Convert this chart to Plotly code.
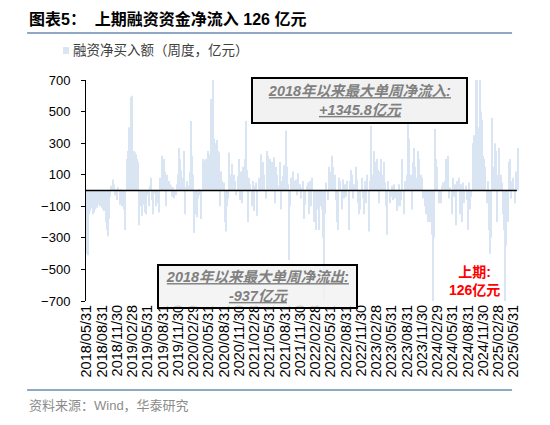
import pandas as pd
import plotly.graph_objects as go

# weekly margin-financing net buy (亿元), week ending Fridays from 2018-06-01
net_buy_2018_19 = [-400, -410, -150, -130, -110, -150, -140, -120, -100, -110, -90, -100,
                   -80, -110, -120, -130, -200, -250, -290, -180, -40, 30, 70, 40,
                   -30, 10, -60, 20, -90, 10, -100, -60, -120, -250, 200, 250,
                   400, 250, 590, 600, 250, 240, 230, 200, 180, -220, -100, -160,
                   -90, -50, -140, -150, -30, -100, 30, 80, -60, -150, -20, -100,
                   -80, -40]
net_buy_2019_20 = [-140, 80, 220, 190, 200, 120, -100, 100, 60, 40, 30, -40,
                   20, -50, -30, 40, 100, 270, 200, 130, 80, 250, -150, 20,
                   60, 30, 120, 440, 220, 100, -270, -150, -170, -50, 10, -30,
                   -180, 200, 190, 170, 200, 180, 250, 230, 580, 560, 700, 330,
                   300, 320, 250, 240, -100, 120, 60, 50, -200, -260, -100, -50,
                   240, 100, 170, 90]
net_buy_2020_22 = [100, 60, -30, 90, 200, -60, 120, -80, 150, 200, 440, 130,
                   -200, 80, 40, -100, 60, -130, 30, 50, -160, 80, 60, 230,
                   140, 180, 100, -50, 250, 220, 160, 200, 180, 90, 210, -80,
                   150, 100, 30, 180, -120, 60, 90, 160, 380, 150, 40, -440,
                   -100, 80, 120, 60, 20, 70, -30, 110, 40, -50, 20, 60,
                   -180, -90, 30, 50]
net_buy_2022_23 = [-150, 60, -100, 80, -200, -150, -250, -120, -60, -250, -100, -120,
                   -300, -720, -150, 50, -60, 150, 120, 80, 220, 150, 100, -60,
                   -200, -250, 80, 60, -120, 70, -50, 40, -40, 60, -250, 60,
                   130, 100, -50, 40, 150, 70, -80, -150, -120, 80, -50, -150,
                   60, -80, 100, -260, 60, 410, 100, 60, 250, 180, 200, 130,
                   -80, 120, 200, 100]
net_buy_2023_24 = [180, 50, -100, -280, 60, -80, -40, 30, -60, 40, -50, -130,
                   -100, 40, -100, -60, 200, -150, 60, 20, 100, 420, 330, 100,
                   -120, 180, 270, 150, 80, 250, 200, 40, 100, 80, -50, -100,
                   -150, -60, -200, -180, -200, -280, -937, -300, 390, 200, 150, -80,
                   -60, -80, 30, 50, 60, 200, 120, 220, -50, 20, -150, 80,
                   -40, 40, -220, 60]
net_buy_2024_25 = [80, -150, 40, -200, 50, -80, 30, -60, -250, 50, -120, -40,
                   300, 350, 250, 880, 1345.8, 400, 760, 500, 450, 220, 200, 150,
                   -80, 60, -250, -400, -300, 460, 150, 300, 250, -200, 100, 270,
                   100, 50, -150, -250, -890, -350, -200, 180, 200, -50, 60, 80,
                   -80, 120, 90, 270, 126]

net_buy = (net_buy_2018_19 + net_buy_2019_20 + net_buy_2020_22
           + net_buy_2022_23 + net_buy_2023_24 + net_buy_2024_25)
week_end = pd.date_range("2018-06-01", periods=len(net_buy), freq="7D")

tick_labels = ["2018/05/31", "2018/08/31", "2018/11/30", "2019/02/28", "2019/05/31",
               "2019/08/31", "2019/11/30", "2020/02/29", "2020/05/31", "2020/08/31",
               "2020/11/30", "2021/02/28", "2021/05/31", "2021/08/31", "2021/11/30",
               "2022/02/28", "2022/05/31", "2022/08/31", "2022/11/30", "2023/02/28",
               "2023/05/31", "2023/08/31", "2023/11/30", "2024/02/29", "2024/05/31",
               "2024/08/31", "2024/11/30", "2025/02/28", "2025/05/31"]
y_ticks = [700, 500, 300, 100, -100, -300, -500, -700]

font = "Liberation Sans, Noto Sans CJK SC"
bar_color = "#DAE5F3"
rule_color = "#8FA8C6"

fig = go.Figure()
fig.add_trace(go.Bar(x=week_end, y=net_buy, marker=dict(color=bar_color, line_width=0),
                     name="融资净买入额（周度，亿元）", showlegend=False))

fig.update_layout(
    width=550, height=425,
    margin=dict(l=86, r=31, t=80, b=124),
    paper_bgcolor="white", plot_bgcolor="white",
    bargap=0.1,
    font=dict(family=font, size=13, color="black"),
    xaxis=dict(type="date", range=["2018-05-27", "2025-07-02"],
               tickvals=pd.to_datetime(tick_labels, format="%Y/%m/%d"),
               ticktext=tick_labels, tickangle=-90, showgrid=False,
               showline=False, ticks="", tickfont=dict(size=14.5)),
    yaxis=dict(range=[-700, 700], tickvals=y_ticks, showgrid=False,
               showline=True, linecolor="black", linewidth=1,
               ticks="outside", ticklen=4, tickcolor="black",
               ticklabelstandoff=8, zeroline=False,
               tickfont=dict(size=13)),
)

# zero line drawn over the bars
fig.add_shape(type="line", xref="paper", yref="y", x0=0, x1=0.995, y0=0, y1=0,
              line=dict(color="black", width=1.5), layer="above")

# header, legend swatch and rules
fig.add_annotation(text="<b>图表5：  上期融资资金净流入 126 亿元</b>", x=-0.136, y=1.276,
                   xref="paper", yref="paper", xanchor="left", yanchor="middle",
                   showarrow=False, font=dict(size=16, color="black"))
fig.add_shape(type="line", xref="paper", yref="paper", x0=-0.136, x1=0.984, y0=1.213, y1=1.213,
              line=dict(color=rule_color, width=2))
fig.add_shape(type="rect", xref="paper", yref="paper", x0=-0.053, x1=-0.039, y0=1.118, y1=1.149,
              fillcolor=bar_color, line_width=0)
fig.add_annotation(text="融资净买入额（周度，亿元）", x=-0.035, y=1.133,
                   xref="paper", yref="paper", xanchor="left", yanchor="middle",
                   showarrow=False, font=dict(size=13.5, color="#404040"))

box_font = dict(size=14.5, color="#808080")
fig.add_annotation(text="<b><i><u>2018年以来最大单周净流入:</u></i></b><br><b><i><u>+1345.8亿元</u></i></b>",
                   x=0.6316, y=0.907, xref="paper", yref="paper", showarrow=False,
                   xanchor="center", yanchor="middle",
                   width=209, height=39, bgcolor="#F2F2F2", bordercolor="black",
                   borderwidth=2, borderpad=2, font=box_font)
fig.add_annotation(text="<b><i><u>2018年以来最大单周净流出:</u></i></b><br><b><i><u>-937亿元</u></i></b>",
                   x=0.396, y=0.065, xref="paper", yref="paper", showarrow=False,
                   xanchor="center", yanchor="middle",
                   width=193, height=37, bgcolor="rgba(242,242,242,0.85)", bordercolor="black",
                   borderwidth=2, borderpad=2, font=box_font)
fig.add_annotation(text="<b>上期:</b><br><b>126亿元</b>", x=0.898, y=0.09,
                   xref="paper", yref="paper", showarrow=False,
                   xanchor="center", yanchor="middle",
                   font=dict(size=14, color="#FF0000"))

fig.add_shape(type="line", xref="paper", yref="paper", x0=-0.136, x1=0.984, y0=-0.403, y1=-0.403,
              line=dict(color=rule_color, width=2))
fig.add_annotation(text="资料来源：Wind，华泰研究", x=-0.136, y=-0.471,
                   xref="paper", yref="paper", xanchor="left", yanchor="middle",
                   showarrow=False, font=dict(size=13, color="#8C8C8C"))

fig.write_html("out.html", config={"displayModeBar": False},
               post_script="document.body.style.margin='0';")
